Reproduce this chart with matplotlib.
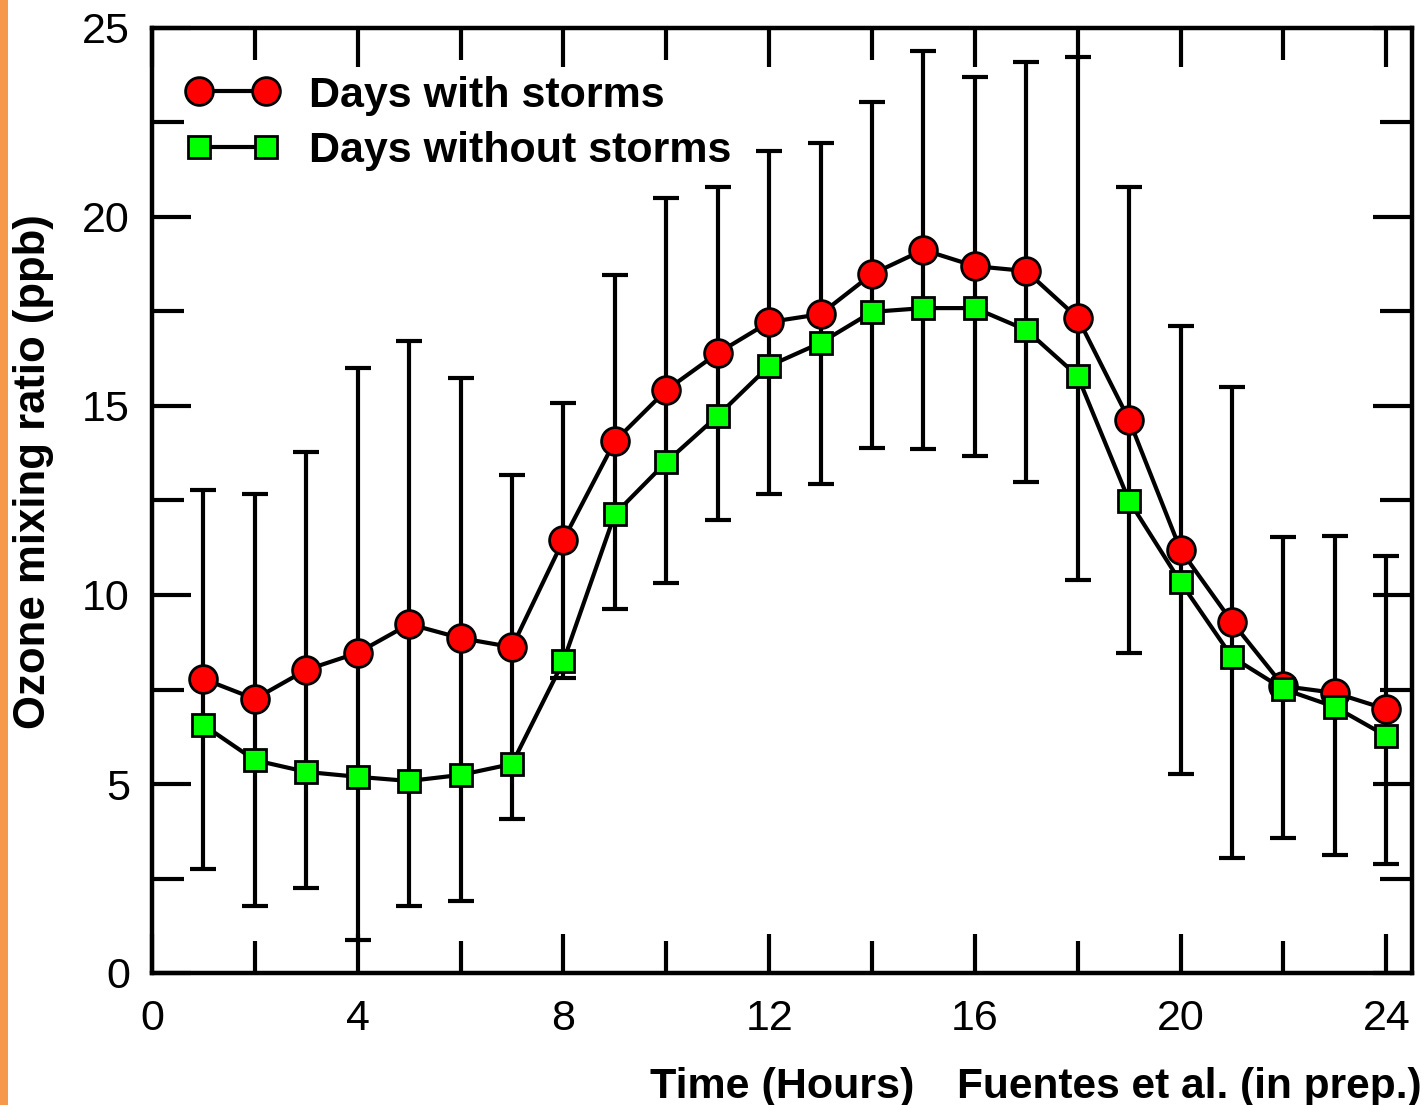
import matplotlib
matplotlib.use("Agg")
import matplotlib.pyplot as plt
from matplotlib.patches import Rectangle
from matplotlib.ticker import MultipleLocator
import numpy as np

hours = list(range(1, 25))
storm = [7.78, 7.25, 8.02, 8.47, 9.23, 8.86, 8.62, 11.46, 14.07, 15.42, 16.40, 17.22,
         17.43, 18.49, 19.13, 18.70, 18.57, 17.33, 14.63, 11.19, 9.29, 7.59, 7.41, 6.98]
no_storm = [6.56, 5.63, 5.32, 5.19, 5.08, 5.24, 5.53, 8.25, 12.14, 13.52, 14.74, 16.06,
            16.67, 17.49, 17.59, 17.59, 17.01, 15.79, 12.49, 10.34, 8.36, 7.51, 7.04, 6.27]
err_high = [12.78, 12.67, 13.78, 16.00, 16.72, 15.74, 13.17, 15.08, 18.47, 20.50, 20.79, 21.75,
            21.96, 23.04, 24.39, 23.70, 24.10, 24.23, 20.79, 17.12, 15.50, 11.53, 11.56, 11.03]
err_low = [2.75, 1.77, 2.25, 0.87, 1.77, 1.90, 4.07, 7.80, 9.63, 10.32, 11.98, 12.67,
           12.94, 13.89, 13.86, 13.68, 12.99, 10.40, 8.47, 5.26, 3.04, 3.57, 3.12, 2.88]
x_ticklabels = ["0", "4", "8", "12", "16", "20", "24"]
y_ticklabels = ["0", "5", "10", "15", "20", "25"]

FONT = "Liberation Sans"
FS = 31
W, H = 1424, 1105
fig = plt.figure(figsize=(W / 100, H / 100), dpi=100)
fig.patch.set_facecolor("white")

# orange strip on left edge
fig.add_artist(Rectangle((0, 0), 8 / W, 1, transform=fig.transFigure,
                         facecolor="#F7994A", edgecolor="none"))

ax = fig.add_axes([152 / W, 1 - 973 / H, (1412 - 152) / W, (973 - 28) / H])

yerr = [np.array(storm) - np.array(err_low), np.array(err_high) - np.array(storm)]
ax.errorbar(hours, storm, yerr=yerr, fmt="none", ecolor="black", elinewidth=3,
            capsize=9.5, capthick=3, zorder=2)
ax.plot(hours, storm, color="black", lw=3, marker="o", ms=20, mfc="#FF0000",
        mec="black", mew=2, zorder=3, label="Days with storms")
ax.plot(hours, no_storm, color="black", lw=3, marker="s", ms=16, mfc="#00FF00",
        mec="black", mew=2, zorder=4, label="Days without storms")

ax.set_xlim(0, 24.5)
ax.set_ylim(0, 25)
ax.xaxis.set_minor_locator(MultipleLocator(2))
ax.yaxis.set_minor_locator(MultipleLocator(2.5))
ax.set_xticks([0, 4, 8, 12, 16, 20, 24])
ax.set_xticklabels(x_ticklabels)
ax.set_yticks([0, 5, 10, 15, 20, 25])
ax.set_yticklabels(y_ticklabels)

for s in ax.spines.values():
    s.set_linewidth(3.2)
ax.tick_params(which="major", direction="in", length=28, width=3, top=True, right=True,
               labelsize=FS, colors="black")
ax.tick_params(which="minor", direction="in", length=23, width=3, top=True, right=True)
ax.tick_params(axis="x", which="major", pad=18.5)
ax.tick_params(axis="y", which="major", pad=16)
for lab in ax.get_xticklabels() + ax.get_yticklabels():
    lab.set_fontfamily(FONT)

fs_px = FS * 100 / 72
leg = ax.legend(loc="upper left", bbox_to_anchor=((199 - 0.3 * fs_px) / W, 1 - 75.5 / H),
                bbox_transform=fig.transFigure, frameon=False, numpoints=2,
                handlelength=(67 + 0.6 * fs_px) / fs_px, handletextpad=0.69,
                labelspacing=0.36, borderpad=0, borderaxespad=0,
                prop={"family": FONT, "weight": "bold", "size": FS})

fig.text(34 / W, 1 - 472 / H, "Ozone mixing ratio (ppb)", rotation=90, ha="center",
         va="center", fontsize=31.5, fontweight="bold", family=FONT)
fig.text(650 / W, 1 - 1098 / H, "Time (Hours)", ha="left", va="baseline",
         fontsize=FS, fontweight="bold", family=FONT)
fig.text(957 / W, 1 - 1098 / H, "Fuentes et al. (in prep.)", ha="left", va="baseline",
         fontsize=30.5, fontweight="bold", family=FONT)

fig.savefig("out.png", dpi=100)
